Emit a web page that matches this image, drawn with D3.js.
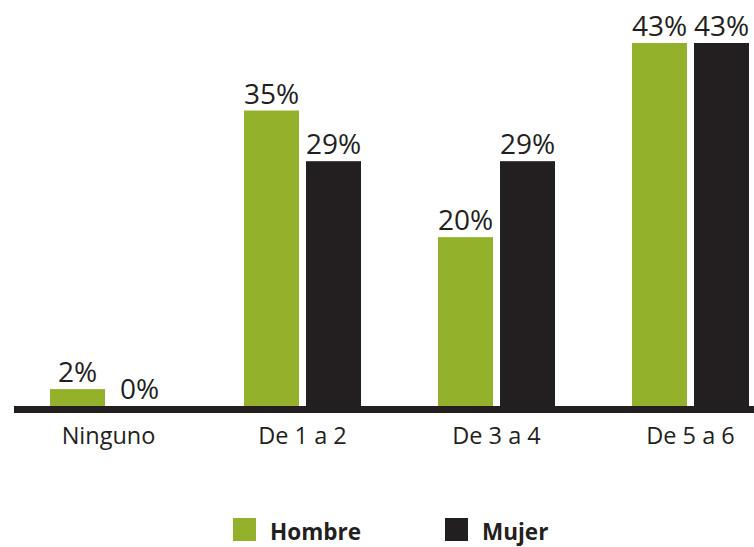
<!DOCTYPE html>
<html>
<head>
<meta charset="utf-8">
<script src="https://cdn.jsdelivr.net/npm/d3@7"></script>
<style>
  html, body { margin: 0; padding: 0; background: #ffffff; }
  svg { display: block; font-family: "Open Sans", sans-serif; }
</style>
</head>
<body>
<svg id="chart" width="754" height="547"></svg>
<script>
//-----------------------------------------------------------------------------
// DATA
var categories = ["Ninguno", "De 1 a 2", "De 3 a 4", "De 5 a 6"];
var series     = ["Hombre", "Mujer"];
var hombre     = [2, 35, 20, 43];
var mujer      = [0, 29, 29, 43];
var colors     = { "Hombre": "#94b12b", "Mujer": "#231f20" };
//-----------------------------------------------------------------------------
// LAYOUT
var baseY = 406;   // top of the axis bar
var topY  = 43;

var svg = d3.select("#chart");

var x0 = d3.scaleBand()
  .domain(categories)
  .range([11.5, 787.5])
  .paddingInner(1 - 117/194)
  .paddingOuter((1 - 117/194)/2);

var x1 = d3.scaleBand()
  .domain(series)
  .range([0, x0.bandwidth()])
  .paddingInner(7/62)
  .paddingOuter(0);

var y = d3.scaleLinear()
  .domain([0, 43])
  .range([baseY, topY]);

var rows = categories.map(function(c, i){
  return { cat: c, values: [
    { key: "Hombre", value: hombre[i] },
    { key: "Mujer",  value: mujer[i] }
  ]};
});
//-----------------------------------------------------------------------------
// BARS
var groups = svg.selectAll("g.group")
  .data(rows)
  .enter()
  .append("g")
  .attr("class", "group")
  .attr("transform", function(d){ return "translate(" + x0(d.cat) + ",0)"; });

groups.selectAll("rect")
  .data(function(d){ return d.values; })
  .enter()
  .append("rect")
  .attr("x", function(d){ return x1(d.key); })
  .attr("y", function(d){ return y(d.value); })
  .attr("width", x1.bandwidth())
  .attr("height", function(d){ return baseY - y(d.value); })
  .attr("fill", function(d){ return colors[d.key]; });

groups.selectAll("text.val")
  .data(function(d){ return d.values; })
  .enter()
  .append("text")
  .attr("class", "val")
  .attr("x", function(d){ return x1(d.key) + x1.bandwidth()/2; })
  .attr("y", function(d){ return y(d.value) - 7; })
  .attr("text-anchor", "middle")
  .attr("font-size", 28)
  .attr("fill", "#231f20")
  .text(function(d){ return d.value + "%"; });
//-----------------------------------------------------------------------------
// AXIS
svg.append("line")
  .attr("x1", 14).attr("x2", 754)
  .attr("y1", baseY + 3.5).attr("y2", baseY + 3.5)
  .attr("stroke", "#231f20")
  .attr("stroke-width", 7);

var xAxis = d3.axisBottom(x0).tickSize(0).tickPadding(0);
var axisG = svg.append("g")
  .attr("transform", "translate(0," + (baseY + 21) + ")")
  .call(xAxis);
axisG.select(".domain").remove();
axisG.selectAll("text")
  .attr("dy", "0.71em")
  .attr("font-size", 23.5)
  .attr("font-family", "Open Sans, sans-serif")
  .attr("fill", "#231f20");
//-----------------------------------------------------------------------------
// LEGEND
var legendX = [233, 445];
var legend = svg.selectAll("g.legend")
  .data(series)
  .enter()
  .append("g")
  .attr("class", "legend")
  .attr("transform", function(d, i){ return "translate(" + legendX[i] + ",518)"; });

legend.append("rect")
  .attr("width", 23).attr("height", 23)
  .attr("fill", function(d){ return colors[d]; });

legend.append("text")
  .attr("x", 37)
  .attr("y", 22)
  .attr("font-size", 22.5)
  .attr("font-weight", "bold")
  .attr("fill", "#231f20")
  .text(function(d){ return d; });
</script>
</body>
</html>
